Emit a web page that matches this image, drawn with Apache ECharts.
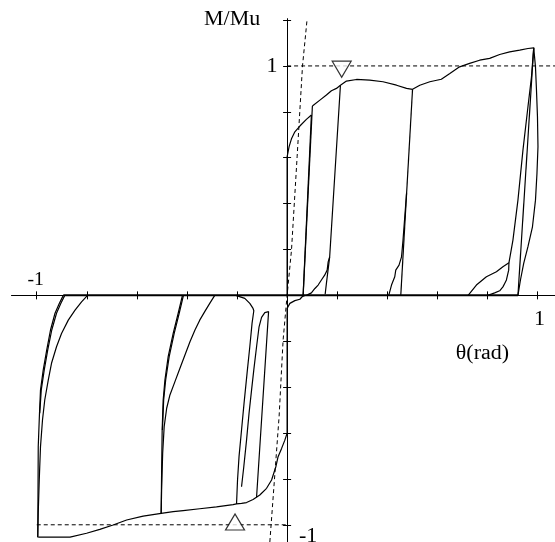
<!DOCTYPE html>
<html>
<head>
<meta charset="utf-8">
<script src="https://cdn.jsdelivr.net/npm/echarts@6/dist/echarts.min.js"></script>
<style>
  html, body { margin: 0; padding: 0; background: #fff; }
  #chart { width: 555px; height: 542px; }
</style>
</head>
<body>
<div id="chart"></div>
<script>
// tick positions (rad / normalized moment)
const xTicks = [-1, -0.8, -0.6, -0.4, -0.2, 0.2, 0.4, 0.6, 0.8, 1]
const yTicks = [-1, -0.8, -0.6, -0.4, -0.2, 0.2, 0.4, 0.6, 0.8, 1, 1.2]
// tick labels: [value on axis, text]
const xTickLabels = [[-1, '-1'], [1, '1']]
const yTickLabels = [[1, '1'], [-1, '-1']]

// positive side
const posInitial = [[0,0],[0,0.604],[0.008,0.648],[0.018,0.684],[0.031,0.713],[0.051,0.738],[0.077,0.767],[0.097,0.786]]
const posUnload1 = [[0.097,0.786],[0.064,0]]
const posReload1 = [[0.064,0],[0.101,0.825]]
const posEnvelope = [[0.101,0.825],[0.131,0.851],[0.157,0.873],[0.177,0.892],[0.197,0.902],[0.213,0.916],[0.237,0.934],[0.277,0.941],[0.330,0.938],[0.383,0.931],[0.437,0.916],[0.477,0.902],[0.501,0.898],[0.530,0.916],[0.570,0.931],[0.616,0.942],[0.650,0.967],[0.689,0.996],[0.729,1.011],[0.769,1.025],[0.809,1.033],[0.849,1.050],[0.889,1.061],[0.929,1.069],[0.962,1.076],[0.985,1.079]]
const posUnload2 = [[0.213,0.916],[0.170,0.168],[0.157,0.052],[0.152,0.005]]
const posReload2 = [[0.077,0],[0.097,0.011],[0.111,0.030],[0.124,0.045],[0.137,0.067],[0.150,0.088],[0.160,0.110],[0.164,0.146],[0.170,0.168]]
const posUnload3 = [[0.501,0.898],[0.454,0]]
const posReload3 = [[0.406,0],[0.417,0.045],[0.430,0.081],[0.434,0.110],[0.447,0.132],[0.457,0.168],[0.463,0.241],[0.470,0.342],[0.477,0.444]]
const posReload4a = [[0.723,0],[0.756,0.045],[0.796,0.081],[0.836,0.103],[0.862,0.125],[0.886,0.142],[0.902,0.241],[0.922,0.415],[0.942,0.633],[0.962,0.822],[0.976,0.952],[0.985,1.079]]
const posReload4b = [[0.802,0],[0.829,0.011],[0.849,0.020],[0.862,0.037],[0.869,0.052],[0.876,0.067],[0.885,0.110],[0.886,0.142]]
const posUnload4 = [[0.985,1.079],[0.922,0]]
const posBulge4 = [[0.922,0],[0.932,0.067],[0.945,0.139],[0.962,0.212],[0.980,0.299],[0.992,0.415],[0.998,0.532],[1.002,0.648],[1.000,0.778],[0.996,0.895],[0.992,0.996],[0.985,1.079]]

// slip plateau along zero moment
const zeroLine = [[-0.894,0],[0.922,0]]

// negative side
const negOrigin = [[0.071,0],[0.060,-0.006],[0.051,-0.017],[0.031,-0.023],[0.011,-0.035],[0,-0.057],[0,-0.601]]
const negEnvelope = [[0,-0.601],[-0.009,-0.631],[-0.022,-0.667],[-0.036,-0.703],[-0.045,-0.747],[-0.062,-0.805],[-0.082,-0.841],[-0.109,-0.870],[-0.136,-0.890],[-0.162,-0.903],[-0.182,-0.907],[-0.202,-0.909],[-0.216,-0.912],[-0.282,-0.922],[-0.349,-0.930],[-0.415,-0.938],[-0.455,-0.943],[-0.503,-0.950],[-0.575,-0.962],[-0.641,-0.979],[-0.695,-1.001],[-0.748,-1.020],[-0.801,-1.037],[-0.867,-1.054],[-0.994,-1.054]]
const negLoop2 = [[-0.205,0],[-0.169,-0.013],[-0.149,-0.035],[-0.136,-0.057],[-0.133,-0.067],[-0.140,-0.122],[-0.149,-0.224],[-0.160,-0.340],[-0.172,-0.471],[-0.182,-0.587],[-0.192,-0.703],[-0.198,-0.805],[-0.202,-0.909]]
const negNarrow = [[-0.182,-0.834],[-0.173,-0.747],[-0.162,-0.631],[-0.152,-0.514],[-0.142,-0.413],[-0.133,-0.325],[-0.122,-0.224],[-0.112,-0.137],[-0.102,-0.096],[-0.089,-0.075],[-0.083,-0.071],[-0.074,-0.071],[-0.072,-0.078],[-0.122,-0.880]]
const negUnload3a = [[-0.418,0],[-0.435,-0.078],[-0.455,-0.166],[-0.475,-0.267],[-0.488,-0.369],[-0.495,-0.456],[-0.499,-0.587],[-0.501,-0.747],[-0.503,-0.950]]
const negUnload3b = [[-0.414,0],[-0.431,-0.078],[-0.451,-0.166],[-0.471,-0.267],[-0.485,-0.369],[-0.493,-0.456],[-0.498,-0.587]]
const negReload3 = [[-0.289,0],[-0.309,-0.035],[-0.329,-0.071],[-0.349,-0.108],[-0.368,-0.151],[-0.388,-0.202],[-0.408,-0.260],[-0.428,-0.318],[-0.448,-0.376],[-0.468,-0.434],[-0.481,-0.492],[-0.491,-0.572],[-0.497,-0.688],[-0.501,-0.834],[-0.503,-0.950]]
const negLoop4a = [[-0.894,0],[-0.910,-0.035],[-0.927,-0.078],[-0.945,-0.151],[-0.960,-0.238],[-0.974,-0.325],[-0.985,-0.413],[-0.989,-0.514],[-0.994,-0.660],[-0.995,-0.877],[-0.996,-1.054]]
const negLoop4b = [[-0.888,0],[-0.904,-0.035],[-0.921,-0.078],[-0.940,-0.151],[-0.956,-0.238],[-0.970,-0.325],[-0.982,-0.413],[-0.988,-0.514]]
const negLoop4c = [[-0.797,0],[-0.821,-0.028],[-0.847,-0.064],[-0.874,-0.108],[-0.901,-0.166],[-0.921,-0.224],[-0.941,-0.296],[-0.954,-0.369],[-0.968,-0.456],[-0.977,-0.543],[-0.985,-0.660],[-0.990,-0.805],[-0.994,-0.950],[-0.996,-1.054]]

// reference lines
const elasticLine = [[-0.069,-1.075],[-0.032,-0.529],[-0.016,-0.195],[0,0],[0.0175,0.197],[0.040,0.604],[0.0615,1.0],[0.080,1.205]]
const upperLimit = [[0,1],[1.07,1]]
const lowerLimit = [[-1,-1],[0,-1]]
const peakMarkUp = [[0.218,0.986]]
const peakMarkDown = [[-0.208,-0.988]]

const solidBranches = [
  posInitial, posUnload1, posReload1, posEnvelope, posUnload2, posReload2,
  posUnload3, posReload3, posReload4a, posReload4b, posUnload4, posBulge4,
  negOrigin, negEnvelope, negLoop2, negNarrow, negUnload3a, negUnload3b,
  negReload3, negLoop4a, negLoop4b, negLoop4c
]

const serif = '"Liberation Serif", "DejaVu Serif", serif'
const black = '#000'
const textStretch = 1.1

function curve(data, width) {
  return {
    type: 'line', data: data, showSymbol: false, symbol: 'none',
    lineStyle: { color: black, width: width }, silent: true, z: 3
  }
}
function dashed(data) {
  return {
    type: 'line', data: data, showSymbol: false, symbol: 'none',
    lineStyle: { color: black, width: 1, type: [4, 3] }, silent: true, z: 2
  }
}
function marker(data, rotate) {
  return {
    type: 'scatter', data: data, symbol: 'triangle', symbolSize: [19, 16],
    symbolRotate: rotate,
    itemStyle: { color: '#fff', borderColor: black, borderWidth: 1.2 }, z: 5
  }
}
function axis(pos, min, max, ticks) {
  return {
    type: 'value', position: pos, min: min, max: max,
    axisLine: { onZero: true, lineStyle: { color: black, width: 1 } },
    axisTick: { show: true, length: 4, customValues: ticks, lineStyle: { color: black } },
    axisLabel: { show: false },
    splitLine: { show: false }
  }
}
function label(text, x, y, size) {
  return {
    type: 'text', x: x, y: y, scaleX: textStretch, z: 10,
    style: { text: text, font: size + 'px ' + serif, fill: black, align: 'center', verticalAlign: 'middle' }
  }
}

const chart = echarts.init(document.getElementById('chart'), null, { renderer: 'canvas' })
chart.setOption({
  animation: false,
  backgroundColor: '#fff',
  grid: { left: 11.7, right: 0, top: 18.9, bottom: 0, containLabel: false, outerBoundsMode: 'none' },
  xAxis: [axis('bottom', -1.1, 1.07, xTicks), axis('top', -1.1, 1.07, xTicks)],
  yAxis: [axis('left', -1.075, 1.205, yTicks), axis('right', -1.075, 1.205, yTicks)],
  series: [
    curve(zeroLine, 2),
    ...solidBranches.map(b => curve(b, 1.2)),
    dashed(elasticLine),
    dashed(upperLimit),
    dashed(lowerLimit),
    marker(peakMarkUp, 180),
    marker(peakMarkDown, 0)
  ]
})

// tick labels and axis names placed next to their axis positions
const toPx = v => chart.convertToPixel({ gridIndex: 0 }, v)
const xl0 = toPx([xTickLabels[0][0], 0]), xl1 = toPx([xTickLabels[1][0], 0])
const yl0 = toPx([0, yTickLabels[0][0]]), yl1 = toPx([0, yTickLabels[1][0]])
const axisTop = toPx([0, 1.205]), xEnd = toPx([1, 0])
chart.setOption({
  graphic: [
    label(xTickLabels[0][1], xl0[0] - 1, xl0[1] - 15, 18),
    label(xTickLabels[1][1], xl1[0] + 2, xl1[1] + 24, 20),
    label(yTickLabels[0][1], yl0[0] - 15, yl0[1] + 1, 20),
    label(yTickLabels[1][1], yl1[0] + 21, yl1[1] + 12, 20),
    label('M/Mu', axisTop[0] - 55, axisTop[1] + 1, 20),
    label('θ(rad)', xEnd[0] - 55, xEnd[1] + 58, 20)
  ]
})
</script>
</body>
</html>
